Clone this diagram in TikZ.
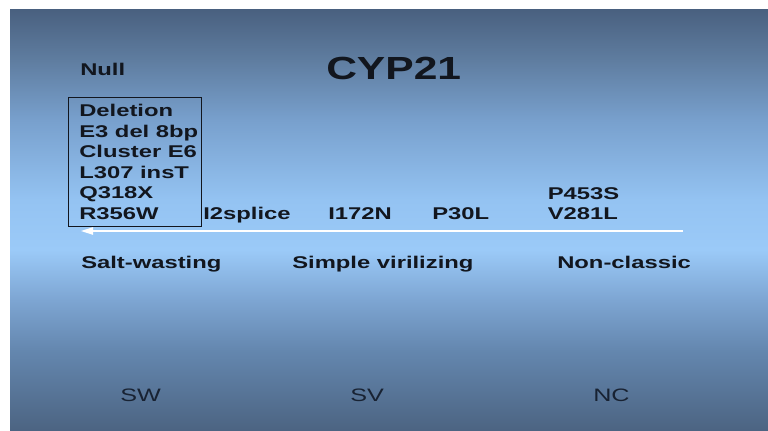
\documentclass[tikz,border=0pt]{standalone}
\usepackage{fontspec}
\setmainfont{Liberation Sans}[FakeStretch=1.33]
\newfontfamily\widefont{Liberation Sans}[FakeStretch=1.4]
\usepackage{tikz}
\usetikzlibrary{arrows.meta, positioning}

\definecolor{ink}{RGB}{18,22,30}
\definecolor{softink}{RGB}{24,34,50}
\definecolor{shA}{RGB}{76,100,130}
\definecolor{shB}{RGB}{100,135,175}
\definecolor{shC}{RGB}{125,165,210}
\definecolor{shD}{RGB}{155,202,248}
\definecolor{shE}{RGB}{148,195,242}
\definecolor{shF}{RGB}{120,160,205}
\definecolor{shG}{RGB}{95,125,160}
\definecolor{shH}{RGB}{73,96,127}
\pgfdeclareverticalshading{slideshade}{100bp}{color(0bp)=(shA); color(25bp)=(shA);
  color(34.5bp)=(shB); color(40.4bp)=(shC); color(46.4bp)=(shD); color(52.3bp)=(shE);
  color(61.8bp)=(shF); color(68.9bp)=(shG); color(75bp)=(shH); color(100bp)=(shH)}

\begin{document}
\begin{tikzpicture}[
  x=0.75pt, y=0.75pt,
  font=\widefont\fontsize{12.75}{15.45}\selectfont\bfseries,
  lbl/.style={anchor=base west, inner sep=0pt, text=ink},
  title/.style={lbl, font=\rmfamily\fontsize{24}{28}\selectfont\bfseries},
  abbr/.style={anchor=base west, inner sep=0pt, text=softink, font=\widefont\fontsize{13.5}{16}\selectfont},
  arr/.style={-{Triangle[length=9pt, width=5.5pt]}, draw=white, line width=1.1pt}
]
  % slide background
  \fill[white] (0,0) rectangle (768,430);
  \shade[shading=slideshade] (10,0) rectangle (768,421);

  \node[lbl] (null) at (80,355) {Null};
  \node[title] (cyp) at (326,351) {CYP21};

  % null alleles
  \draw[ink, line width=0.75pt] (68,333) rectangle (201,204);
  \node[lbl, anchor=north west, align=left] (nulllist) at (79,326)
    {Deletion\\E3 del 8bp\\Cluster E6\\L307 insT\\Q318X\\R356W};

  \node[lbl] (splice) at (203,210.5) {I2splice};
  \node[lbl] (i172n) at (328,210.5) {I172N};
  \node[lbl] (p30l) at (432,210.5) {P30L};
  \node[lbl] (v281l) at (547.5,210.5) {V281L};
  \node[lbl] (p453s) at (547.5,231) {P453S};

  % severity arrow
  \coordinate (mild) at (683,199);
  \coordinate (severe) at (81,199);
  \draw[arr] (mild) -- (severe);

  \node[lbl] (sw) at (81,162) {Salt-wasting};
  \node[lbl] (sv) at (292,162) {Simple virilizing};
  \node[lbl] (nc) at (557,162) {Non-classic};

  \node[abbr] (swab) at (120,29) {SW};
  \node[abbr] (svab) at (350,29) {SV};
  \node[abbr] (ncab) at (593,29) {NC};
\end{tikzpicture}
\end{document}
